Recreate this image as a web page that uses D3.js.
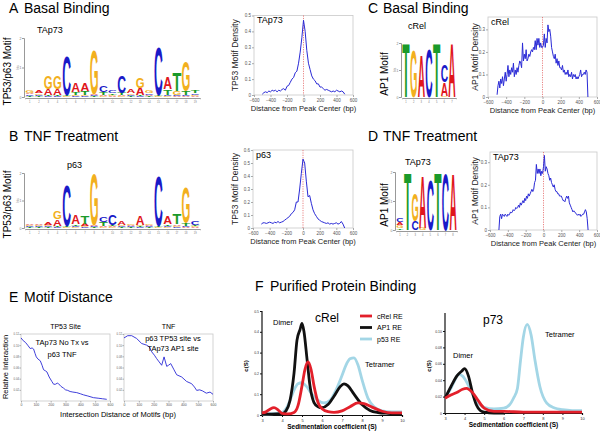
<!DOCTYPE html>
<html><head><meta charset="utf-8">
<script src="https://cdn.jsdelivr.net/npm/d3@7"></script>
<style>
body{margin:0;background:#fff}
svg{display:block}
text{font-family:"Liberation Sans",Arial,Helvetica,sans-serif}
</style>
</head><body>
<svg id="c" width="600" height="434"></svg>
<script>
// ---------------- DATA ----------------
// Sequence logos: each column lists [base, bits] from bottom to top
const logoA_TAp73 = [
 [["T",0.04],["C",0.05],["A",0.06],["G",0.1]],
 [["T",0.03],["C",0.04],["G",0.05],["A",0.09]],
 [["C",0.03],["T",0.04],["A",0.2],["G",0.45]],
 [["C",0.03],["T",0.04],["A",0.2],["G",0.45]],
 [["G",0.03],["T",0.04],["C",1.35]],
 [["C",0.03],["G",0.04],["T",0.1],["A",0.3]],
 [["C",0.03],["G",0.04],["T",0.15],["A",0.28]],
 [["T",0.03],["C",0.03],["A",0.05],["G",1.55]],
 [["G",0.03],["A",0.04],["T",0.1],["C",0.2]],
 [["A",0.03],["G",0.04],["T",0.06],["C",0.08]],
 [["G",0.03],["A",0.03],["T",0.08],["C",0.6]],
 [["T",0.03],["C",0.04],["G",0.05],["A",0.12]],
 [["C",0.03],["T",0.04],["A",0.25],["G",0.35]],
 [["T",0.03],["A",0.05],["C",0.06],["G",0.08]],
 [["G",0.03],["T",0.05],["C",1.65]],
 [["G",0.03],["C",0.05],["T",0.18],["A",0.4]],
 [["A",0.03],["C",0.04],["G",0.15],["T",0.62]],
 [["A",0.03],["C",0.04],["T",0.15],["G",1.05]],
 [["A",0.03],["G",0.04],["C",0.05],["T",0.1]]
];
const logoB_p63 = [
 [["T",0.03],["C",0.03],["G",0.04],["A",0.06]],
 [["T",0.03],["C",0.04],["G",0.05],["A",0.06]],
 [["T",0.03],["C",0.04],["G",0.05],["A",0.1]],
 [["C",0.03],["T",0.04],["A",0.25],["G",0.28]],
 [["G",0.03],["T",0.05],["C",1.5]],
 [["G",0.03],["C",0.04],["T",0.06],["A",0.35]],
 [["C",0.03],["G",0.04],["A",0.08],["T",0.3]],
 [["T",0.03],["C",0.03],["A",0.04],["G",1.9]],
 [["G",0.03],["A",0.04],["T",0.15],["C",0.2]],
 [["G",0.03],["A",0.04],["T",0.04],["C",0.4]],
 [["T",0.03],["C",0.04],["G",0.04],["A",0.12]],
 [["T",0.03],["C",0.04],["A",0.05],["G",0.06]],
 [["C",0.03],["T",0.04],["G",0.05],["A",0.35]],
 [["T",0.03],["C",0.04],["A",0.05],["G",0.06]],
 [["G",0.03],["T",0.04],["C",1.85]],
 [["G",0.03],["C",0.04],["T",0.06],["A",0.3]],
 [["C",0.03],["G",0.04],["A",0.06],["T",0.4]],
 [["A",0.03],["C",0.05],["T",0.1],["G",1.3]],
 [["A",0.03],["G",0.04],["T",0.05],["C",0.12]]
];
const logoC_cRel = [
 [["T",2.0]],
 [["G",1.75]],
 [["A",1.55]],
 [["C",1.8]],
 [["T",2.0]],
 [["G",0.04],["A",0.5],["C",0.65]],
 [["A",2.0]]
];
const logoD_TAp73 = [
 [["T",0.06],["G",0.1],["A",0.1],["C",0.15]],
 [["T",2.0]],
 [["C",0.3],["G",0.95]],
 [["G",0.08],["A",1.85]],
 [["C",1.75]],
 [["T",2.0]],
 [["C",1.95]],
 [["A",1.95]]
];

// Motif density (distance from peak center, bp)
const dist20 = d3.range(-500, 501, 20);
const dist10 = d3.range(-500, 501, 10);
const densA_TAp73 = [0.005,0.015,0.02,0.015,0.025,0.02,0.03,0.025,0.03,0.02,0.03,0.025,0.035,0.04,0.03,0.055,0.06,0.08,0.1,0.11,0.14,0.15,0.2,0.27,0.36,0.47,0.4,0.28,0.2,0.16,0.12,0.1,0.09,0.07,0.07,0.05,0.05,0.04,0.03,0.035,0.03,0.025,0.02,0.025,0.02,0.03,0.025,0.02,0.025,0.02,0.005];
const densB_p63 = [0.03,0.04,0.04,0.035,0.04,0.045,0.04,0.035,0.045,0.04,0.05,0.04,0.045,0.05,0.06,0.07,0.08,0.09,0.11,0.12,0.14,0.2,0.2,0.3,0.42,0.53,0.5,0.36,0.24,0.25,0.19,0.14,0.11,0.09,0.07,0.06,0.05,0.045,0.04,0.035,0.04,0.03,0.035,0.03,0.035,0.04,0.03,0.035,0.05,0.03,0.0];
const densC_cRel = [0.01,0.05,0.07,0.04,0.08,0.06,0.09,0.05,0.08,0.11,0.07,0.1,0.14,0.09,0.12,0.1,0.13,0.11,0.15,0.09,0.12,0.1,0.13,0.11,0.14,0.16,0.15,0.13,0.24,0.16,0.19,0.17,0.21,0.16,0.17,0.19,0.18,0.2,0.21,0.2,0.22,0.21,0.25,0.21,0.26,0.23,0.26,0.22,0.24,0.22,0.22,0.23,0.28,0.22,0.26,0.24,0.32,0.29,0.3,0.27,0.22,0.2,0.18,0.17,0.19,0.15,0.17,0.14,0.16,0.13,0.13,0.12,0.14,0.11,0.12,0.1,0.11,0.1,0.12,0.09,0.1,0.09,0.11,0.08,0.1,0.09,0.1,0.08,0.09,0.08,0.09,0.1,0.12,0.09,0.1,0.1,0.11,0.1,0.12,0.11,0.0];
const densD_TAp73 = [0.0,0.06,0.07,0.05,0.07,0.065,0.06,0.07,0.065,0.06,0.07,0.065,0.07,0.08,0.075,0.08,0.09,0.085,0.09,0.1,0.095,0.1,0.11,0.1,0.12,0.11,0.12,0.13,0.12,0.14,0.13,0.15,0.14,0.16,0.15,0.16,0.17,0.18,0.17,0.18,0.21,0.22,0.29,0.25,0.27,0.25,0.27,0.24,0.26,0.25,0.28,0.33,0.26,0.28,0.27,0.25,0.24,0.22,0.23,0.21,0.2,0.19,0.2,0.18,0.17,0.17,0.16,0.16,0.15,0.15,0.15,0.14,0.13,0.13,0.125,0.14,0.15,0.14,0.15,0.12,0.11,0.1,0.09,0.08,0.085,0.08,0.075,0.07,0.065,0.07,0.065,0.07,0.06,0.065,0.07,0.07,0.08,0.09,0.08,0.05,0.0];

// Motif distance (E)
const eTP53x = [0,15,30,45,62,75,85,95,103,115,130,142,152,165,175,190,208,220,232,245,253,270,287,300,315,331,350,376,400,421,450,488,520,550,578];
const eTP53y = [0.113,0.108,0.105,0.1,0.094,0.095,0.093,0.085,0.079,0.075,0.072,0.064,0.056,0.054,0.052,0.043,0.035,0.03,0.03,0.032,0.031,0.026,0.023,0.02,0.019,0.017,0.016,0.015,0.013,0.011,0.009,0.006,0.005,0.004,0.003];
const eTNFx = [0,25,52,85,119,153,170,187,205,220,237,254,270,288,300,315,335,355,389,422,456,475,490,510,530,555,580,600];
const eTNFy = [0.113,0.117,0.117,0.112,0.103,0.1,0.097,0.088,0.082,0.076,0.07,0.064,0.079,0.062,0.064,0.067,0.057,0.047,0.043,0.035,0.031,0.025,0.019,0.02,0.018,0.014,0.016,0.012];

// Sedimentation (F)
const fCRel_redX = [3,3.2,3.4,3.6,3.8,4,4.3,4.6,4.8,5,5.15,5.3,5.45,5.6,5.8,6,6.3,6.6,7,7.4,7.8,8.1,8.5,9,9.5,10];
const fCRel_redY = [0.01,0.015,0.028,0.035,0.025,0.008,0.005,0.012,0.045,0.14,0.22,0.255,0.22,0.14,0.06,0.03,0.016,0.013,0.02,0.04,0.058,0.055,0.038,0.018,0.01,0.01];
const fCRel_blackX = [3,3.5,4,4.2,4.4,4.6,4.75,4.9,5.0,5.1,5.25,5.4,5.6,5.8,6,6.3,6.6,6.9,7.1,7.3,7.6,8,8.4,8.8,9.3,10];
const fCRel_blackY = [0.004,0.004,0.006,0.02,0.07,0.2,0.36,0.41,0.44,0.4,0.27,0.14,0.06,0.04,0.035,0.05,0.09,0.135,0.15,0.14,0.1,0.05,0.022,0.012,0.008,0.006];
const fCRel_blueX = [3,3.5,4,4.2,4.4,4.6,4.8,5.0,5.2,5.5,5.8,6.1,6.4,6.7,7.0,7.2,7.4,7.6,7.8,8.0,8.3,8.6,9,9.5,10];
const fCRel_blueY = [0.004,0.006,0.012,0.03,0.07,0.12,0.15,0.155,0.14,0.1,0.07,0.058,0.07,0.12,0.19,0.24,0.27,0.275,0.24,0.17,0.08,0.04,0.02,0.015,0.015];
const fP73_redX = [3,3.3,3.6,3.9,4.1,4.4,4.7,5,5.5,6,7,8,9,10];
const fP73_redY = [0.018,0.022,0.025,0.029,0.03,0.025,0.015,0.006,0.002,0.002,0.001,0.001,0.001,0.001];
const fP73_blackX = [3,3.3,3.6,3.85,4.0,4.2,4.4,4.6,4.8,5.0,5.5,6];
const fP73_blackY = [0.018,0.032,0.045,0.051,0.054,0.045,0.025,0.01,0.003,0.001,0,0];
const fP73_blueX = [3,3.3,3.5,3.7,3.9,4.1,4.3,4.6,5.0,5.5,6.0,6.3,6.5,6.7,6.85,7.0,7.2,7.4,7.6,7.85,8.2,8.6,9,9.5,10];
const fP73_blueY = [0.018,0.03,0.04,0.047,0.045,0.038,0.028,0.015,0.007,0.005,0.006,0.01,0.018,0.03,0.062,0.092,0.108,0.095,0.064,0.032,0.012,0.006,0.004,0.003,0.003];
const fLegend = ["cRel RE","AP1 RE","p53 RE"];

// ---------------- DRAW ----------------
const svg = d3.select("#c");
const baseColor = {A:"#e0161c", C:"#1a1ac8", G:"#f2b01e", T:"#1a9a2a"};
const adv = {A:0.722, C:0.722, G:0.778, T:0.611};
const CAP = 0.716;

function panelTitle(letter, title, x, y) {
  svg.append("text").attr("x", x).attr("y", y).attr("font-size", 14).text(letter);
  svg.append("text").attr("x", x + 15).attr("y", y).attr("font-size", 14).text(title);
}
panelTitle("A", "Basal Binding", 9, 13);
panelTitle("B", "TNF Treatment", 9, 141);
panelTitle("C", "Basal Binding", 368, 13);
panelTitle("D", "TNF Treatment", 368, 141);
panelTitle("E", "Motif Distance", 9, 302);
panelTitle("F", "Purified Protein Binding", 255, 291);

function drawLogo(cols, x0, x1, yb, yt, name, nameX, nameY, ylab, ylabX) {
  const g = svg.append("g");
  const x = d3.scaleBand().domain(d3.range(cols.length)).range([x0, x1]).padding(0.04);
  const y = d3.scaleLinear().domain([0, 2]).range([yb, yt]);
  cols.forEach((col, i) => {
    let cum = 0;
    col.forEach(([L, h]) => {
      const top = y(cum + h), bot = y(cum);
      const hp = bot - top;
      g.append("text").text(L)
        .attr("font-size", 100).attr("font-weight", "bold").attr("fill", baseColor[L])
        .attr("transform", `translate(${x(i)},${bot}) scale(${x.bandwidth() / (adv[L] * 100)},${hp / (CAP * 100)})`);
      cum += h;
    });
  });
  const ya = g.append("g").attr("transform", `translate(${x0 - 1},0)`)
    .call(d3.axisLeft(y).tickValues([0, 1, 2]).tickSize(2).tickFormat(d3.format("d")));
  ya.select(".domain").attr("stroke", "#999");
  ya.selectAll("line").attr("stroke", "#999");
  ya.selectAll("text").attr("font-size", 3.5).attr("fill", "#777").attr("x", -2.5);
  g.append("text").attr("transform", `translate(${x0 - 6},${(yb + yt) / 2}) rotate(-90)`)
    .attr("text-anchor", "middle").attr("font-size", 3).attr("fill", "#888").text("bits");
  const xa = g.append("g").attr("transform", `translate(0,${yb + 1})`)
    .call(d3.axisBottom(x).tickSize(1.2).tickFormat(d => d + 1));
  xa.select(".domain").attr("stroke", "#999");
  xa.selectAll("line").attr("stroke", "#999");
  xa.selectAll("text").attr("font-size", 2.6).attr("fill", "#777").attr("y", 3);
  svg.append("text").attr("x", nameX).attr("y", nameY).attr("font-size", 9).text(name);
  svg.append("text").attr("transform", `translate(${ylabX},${(yb + yt) / 2 + 4}) rotate(-90)`)
    .attr("text-anchor", "middle").attr("font-size", 10).text(ylab);
}
drawLogo(logoA_TAp73, 25, 200, 97, 38, "TAp73", 37, 33, "TP53/p63 Motif", 11);
drawLogo(logoB_p63, 25, 200, 228, 173, "p63", 67, 168, "TP53/p63 Motif", 11);
drawLogo(logoC_cRel, 402, 456, 97, 43, "cRel", 408, 29, "AP1 Motif", 388);
drawLogo(logoD_TAp73, 396, 457, 230, 172, "TAp73", 405, 165, "AP1 Motif", 388);

function densityPlot(xs, vals, o) {
  const g = svg.append("g");
  const x = d3.scaleLinear().domain([-600, 600]).range([o.x0, o.x1]);
  const y = d3.scaleLinear().domain([0, o.ymax]).range([o.y1, o.y0]);
  g.append("rect").attr("x", o.x0).attr("y", o.y0).attr("width", o.x1 - o.x0).attr("height", o.y1 - o.y0)
    .attr("fill", "none").attr("stroke", "#c9c9c9").attr("stroke-width", 0.8);
  const xa = g.append("g").attr("transform", `translate(0,${o.y1})`)
    .call(d3.axisBottom(x).tickValues([-600, -400, -200, 0, 200, 400, 600]).tickSize(2).tickFormat(d3.format("d")));
  xa.select(".domain").remove();
  xa.selectAll("line").attr("stroke", "#aaa");
  xa.selectAll("text").attr("font-size", 4.5).attr("fill", "#555").attr("y", 4);
  const ya = g.append("g").attr("transform", `translate(${o.x0},0)`)
    .call(d3.axisLeft(y).tickValues(o.yticks).tickSize(2).tickFormat(d => d === 0 ? "0" : d3.format(".1f")(d)));
  ya.select(".domain").remove();
  ya.selectAll("line").attr("stroke", "#aaa");
  ya.selectAll("text").attr("font-size", 4.5).attr("fill", "#555").attr("x", -3);
  g.append("line").attr("x1", x(0)).attr("x2", x(0)).attr("y1", o.y0).attr("y2", o.y1)
    .attr("stroke", "#e05050").attr("stroke-width", 0.7).attr("stroke-dasharray", "1.2,1.2");
  g.append("path").datum(xs.map((d, i) => [d, vals[i]]))
    .attr("d", d3.line().x(d => x(d[0])).y(d => y(d[1])))
    .attr("fill", "none").attr("stroke", "#2a2ad6").attr("stroke-width", 1);
  g.append("text").attr("x", o.x0 + 3).attr("y", o.y0 + 7.5).attr("font-size", 9).text(o.name);
  g.append("text").attr("transform", `translate(${o.ylabX},${(o.y0 + o.y1) / 2}) rotate(-90)`)
    .attr("text-anchor", "middle").attr("font-size", 8.5).attr("fill", "#222").text(o.ylab);
  g.append("text").attr("x", (o.x0 + o.x1) / 2).attr("y", o.y1 + 16).attr("text-anchor", "middle")
    .attr("font-size", 7.5).attr("fill", "#222").text("Distance from Peak Center (bp)");
}
densityPlot(dist20, densA_TAp73, {x0: 254, x1: 353, y0: 15.5, y1: 95, ymax: 0.5, yticks: [0, 0.1, 0.2, 0.3, 0.4, 0.5], name: "TAp73", ylab: "TP53 Motif Density", ylabX: 238});
densityPlot(dist20, densB_p63, {x0: 253, x1: 353, y0: 150, y1: 228, ymax: 0.6, yticks: [0, 0.1, 0.2, 0.3, 0.4, 0.5, 0.6], name: "p63", ylab: "TP53 Motif Density", ylabX: 238});
densityPlot(dist10, densC_cRel, {x0: 488, x1: 597, y0: 17, y1: 97, ymax: 0.355, yticks: [0, 0.1, 0.2, 0.3], name: "cRel", ylab: "AP1 Motif Density", ylabX: 478});
densityPlot(dist10, densD_TAp73, {x0: 490, x1: 597, y0: 152, y1: 230, ymax: 0.345, yticks: [0, 0.1, 0.2, 0.3], name: "TAp73", ylab: "AP1 Motif Density", ylabX: 478});

function distPlot(xs, ys, o) {
  const g = svg.append("g");
  const x = d3.scaleLinear().domain([0, 600]).range([o.x0, o.x1]);
  const y = d3.scaleLinear().domain([0, 0.12]).range([o.y1, o.y0]);
  g.append("rect").attr("x", o.x0).attr("y", o.y0).attr("width", o.x1 - o.x0).attr("height", o.y1 - o.y0)
    .attr("fill", "none").attr("stroke", "#c9c9c9").attr("stroke-width", 0.8);
  const xa = g.append("g").attr("transform", `translate(0,${o.y1})`)
    .call(d3.axisBottom(x).tickValues([0, 100, 200, 300, 400, 500, 600]).tickSize(1.5).tickFormat(d3.format("d")));
  xa.select(".domain").remove();
  xa.selectAll("line").attr("stroke", "#aaa");
  xa.selectAll("text").attr("font-size", 3.5).attr("fill", "#555").attr("y", 3);
  const ya = g.append("g").attr("transform", `translate(${o.x0},0)`)
    .call(d3.axisLeft(y).tickValues([0.02, 0.04, 0.06, 0.08, 0.10, 0.12]).tickSize(1.5).tickFormat(d3.format(".2f")));
  ya.select(".domain").remove();
  ya.selectAll("line").attr("stroke", "#aaa");
  ya.selectAll("text").attr("font-size", 2.8).attr("fill", "#666").attr("x", -2);
  g.append("path").datum(xs.map((d, i) => [d, ys[i]]))
    .attr("d", d3.line().x(d => x(d[0])).y(d => y(d[1])))
    .attr("fill", "none").attr("stroke", "#2a2ad6").attr("stroke-width", 0.9);
  g.append("text").attr("x", (o.x0 + o.x1) / 2).attr("y", o.y0 - 5).attr("text-anchor", "middle")
    .attr("font-size", 7).text(o.title);
  o.lines.forEach((t, i) => g.append("text").attr("x", o.tx).attr("y", o.ty + i * o.dy)
    .attr("text-anchor", "middle").attr("font-size", 7.5).text(t));
}
distPlot(eTP53x, eTP53y, {x0: 21, x1: 110, y0: 334, y1: 401, title: "TP53 Site", lines: ["TAp73 No Tx  vs", "p63 TNF"], tx: 62, ty: 345, dy: 12});
distPlot(eTNFx, eTNFy, {x0: 124, x1: 213, y0: 334, y1: 401, title: "TNF", lines: ["p63 TP53 site vs", "TAp73 AP1 site"], tx: 173, ty: 341, dy: 10});
svg.append("text").attr("transform", "translate(8,367) rotate(-90)").attr("text-anchor", "middle")
  .attr("font-size", 7.5).text("Relative Interaction");
svg.append("text").attr("x", 118).attr("y", 417).attr("text-anchor", "middle").attr("font-size", 7.5)
  .text("Intersection Distance of Motifs (bp)");

const fColors = {red: "#e3202b", black: "#111111", blue: "#a3d6e6"};
function sedPlot(series, o) {
  const g = svg.append("g");
  const x = d3.scaleLinear().domain([3, 10]).range([o.x0, o.x1]);
  const y = d3.scaleLinear().domain([0, o.ymax]).range([o.y1, o.yTopVal]);
  const xa = g.append("g").attr("transform", `translate(0,${o.y1})`)
    .call(d3.axisBottom(x).ticks(7).tickSize(2).tickFormat(d3.format("d")));
  xa.select(".domain").attr("stroke", "#111").attr("stroke-width", 1.2);
  xa.selectAll("line").attr("stroke", "#111");
  xa.selectAll("text").attr("font-size", 4).attr("fill", "#333").attr("y", 4);
  const ya = g.append("g").attr("transform", `translate(${o.x0},0)`)
    .call(d3.axisLeft(y).tickValues(o.yticks).tickSize(2).tickFormat(o.fmt));
  ya.select(".domain").attr("stroke", "#111").attr("stroke-width", 1.2)
    .attr("d", `M0,${o.axisTop}V${o.y1}`);
  ya.selectAll("line").attr("stroke", "#111");
  ya.selectAll("text").attr("font-size", 3.5).attr("fill", "#333").attr("x", -3);
  const line = d3.line().x(d => x(d[0])).y(d => y(d[1])).curve(d3.curveMonotoneX);
  series.forEach(s => {
    g.append("path").datum(s.xs.map((d, i) => [d, s.ys[i]]))
      .attr("d", line).attr("fill", "none").attr("stroke", fColors[s.c])
      .attr("stroke-width", 2.8).attr("stroke-linejoin", "round");
  });
  g.append("text").attr("transform", `translate(${o.x0 - 14},${(o.y1 + o.axisTop) / 2 + 3}) rotate(-90)`)
    .attr("text-anchor", "middle").attr("font-size", 6).attr("font-weight", "bold").text("c(S)");
  g.append("text").attr("x", (o.x0 + o.x1) / 2).attr("y", o.y1 + 14).attr("text-anchor", "middle")
    .attr("font-size", 6.5).attr("font-weight", "bold").text("Sedimentation coefficient (S)");
  g.append("text").attr("x", o.nameX).attr("y", o.nameY).attr("font-size", 12).text(o.name);
  g.append("text").attr("x", o.dimX).attr("y", o.dimY).attr("font-size", 7.5).text("Dimer");
  g.append("text").attr("x", o.tetX).attr("y", o.tetY).attr("font-size", 7.5).text("Tetramer");
}
sedPlot([
  {xs: fCRel_blueX, ys: fCRel_blueY, c: "blue"},
  {xs: fCRel_blackX, ys: fCRel_blackY, c: "black"},
  {xs: fCRel_redX, ys: fCRel_redY, c: "red"}
], {x0: 262, x1: 402, y1: 415, ymax: 0.5, yTopVal: 311, axisTop: 311, yticks: [0, 0.1, 0.2, 0.3, 0.4, 0.5],
    fmt: d => d === 0 ? "0" : d3.format(".1f")(d), name: "cRel", nameX: 315, nameY: 322,
    dimX: 273, dimY: 325, tetX: 365, tetY: 367});
sedPlot([
  {xs: fP73_blueX, ys: fP73_blueY, c: "blue"},
  {xs: fP73_blackX, ys: fP73_blackY, c: "black"},
  {xs: fP73_redX, ys: fP73_redY, c: "red"}
], {x0: 445, x1: 582, y1: 413, ymax: 0.10, yTopVal: 331, axisTop: 313, yticks: [0, 0.02, 0.04, 0.06, 0.08, 0.10],
    fmt: d => d === 0 ? "0" : d3.format(".2f")(d), name: "p73", nameX: 483, nameY: 324,
    dimX: 453, dimY: 358, tetX: 545, tetY: 337});

// legend for F (cRel)
const legC = ["red", "black", "blue"];
fLegend.forEach((t, i) => {
  const yy = 316 + i * 11.5;
  svg.append("line").attr("x1", 360).attr("x2", 372).attr("y1", yy).attr("y2", yy)
    .attr("stroke", fColors[legC[i]]).attr("stroke-width", 2.8);
  svg.append("text").attr("x", 377).attr("y", yy + 2.5).attr("font-size", 7).text(t);
});
</script>
</body></html>
